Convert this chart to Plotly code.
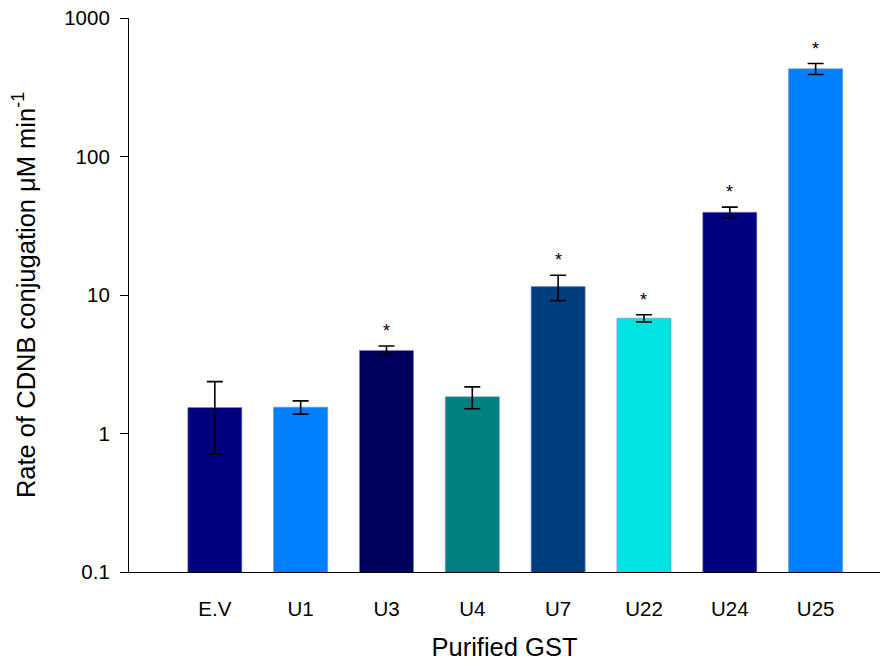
import plotly.graph_objects as go
import math

categories = ["E.V", "U1", "U3", "U4", "U7", "U22", "U24", "U25"]
rates = [1.54, 1.55, 3.98, 1.84, 11.5, 6.8, 39.6, 430]
errors = [0.83, 0.17, 0.3, 0.33, 2.4, 0.4, 3.5, 39]
significant = [False, False, True, False, True, True, True, True]
colors = ["#000080", "#0080FF", "#00005E", "#008080", "#003F7F", "#00E3E3", "#000080", "#0080FF"]
y_ticks = [0.1, 1, 10, 100, 1000]
y_tick_labels = ["0.1", "1", "10", "100", "1000"]

FONT = "Liberation Sans, Arial, sans-serif"
x_idx = list(range(len(categories)))

fig = go.Figure()
fig.add_trace(go.Bar(
    x=x_idx, y=rates,
    width=0.63,
    marker=dict(color=colors, line=dict(color="rgba(120,140,200,0.6)", width=1)),
    error_y=dict(type="data", array=errors, visible=True, color="black", thickness=1.6, width=8),
    showlegend=False,
))

for i, (v, e, s) in enumerate(zip(rates, errors, significant)):
    if s:
        fig.add_annotation(x=i, y=math.log10(v + e), text="*", showarrow=False,
                           yshift=15, font=dict(family=FONT, size=18, color="black"))

# page body has an 8px default margin, so the figure is offset by 8px
fig.update_layout(
    width=887, height=653,
    margin=dict(l=121, r=15, t=10, b=89),
    plot_bgcolor="white", paper_bgcolor="white",
    font=dict(family=FONT, color="black"),
    bargap=0.3,
)
fig.update_xaxes(
    range=[-1, 7.75], automargin=False,
    tickmode="array", tickvals=x_idx, ticktext=categories,
    showline=True, linecolor="black", linewidth=1.2,
    showgrid=False, zeroline=False, ticks="",
    tickfont=dict(family=FONT, size=20.5),
    ticklabelstandoff=18,
    title=dict(text="Purified GST", font=dict(family=FONT, size=25.5), standoff=28),
)
fig.update_yaxes(
    type="log", range=[-1, 3], automargin=False,
    tickmode="array", tickvals=y_ticks, ticktext=y_tick_labels,
    showline=True, linecolor="black", linewidth=1.2,
    showgrid=False, zeroline=False,
    ticks="outside", ticklen=8, tickwidth=1.2, tickcolor="black",
    tickfont=dict(family=FONT, size=20.5),
    ticklabelstandoff=6, ticklabeloverflow="allow",
    title=dict(text="Rate of CDNB conjugation μM min<sup>-1</sup>", font=dict(family=FONT, size=25.5), standoff=30),
)

fig.write_html("out.html")
